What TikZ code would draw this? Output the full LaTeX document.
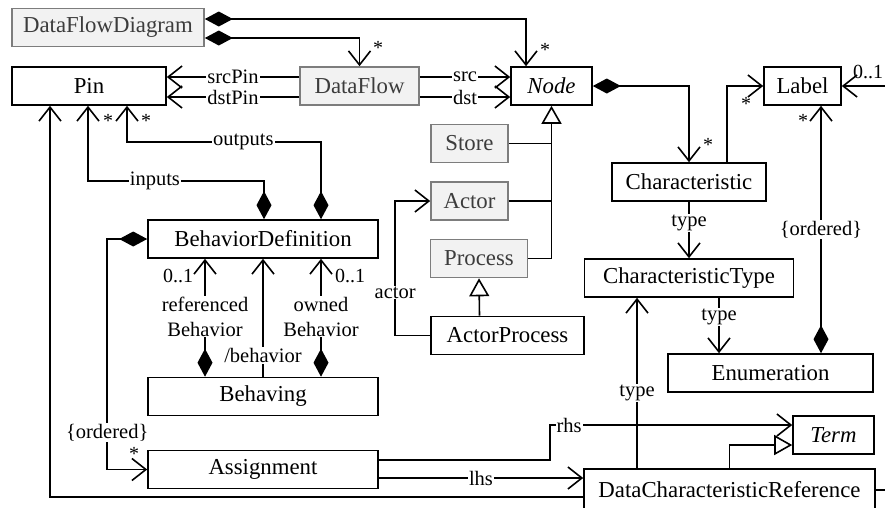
\documentclass[tikz,border=0pt]{standalone}
\usepackage{fontspec}
\setmainfont{Liberation Serif}
\usepackage{tikz}
\usetikzlibrary{arrows.meta}
\definecolor{umlgray}{RGB}{242,242,242}
\definecolor{umledge}{RGB}{125,125,125}
\definecolor{umltext}{RGB}{60,60,60}

\begin{document}
\begin{tikzpicture}[x=1pt, y=-1pt, line width=1.6pt,
  cls/.style={draw, rectangle, line width=1.6pt, minimum height=38pt, inner sep=0pt, font=\fontsize{22.8}{26}\selectfont},
  ext/.style={cls, fill=umlgray, draw=umledge, text=umltext},
  role/.style={fill=white, inner sep=1pt, align=center, font=\fontsize{20.5}{25}\selectfont},
  mult/.style={inner sep=0pt, font=\fontsize{20}{22}\selectfont},
  nav/.style={-{Straight Barb[length=14pt,width=22pt]}},
  comp/.style={{Diamond[length=28pt,width=15pt]}-{Straight Barb[length=14pt,width=22pt]}},
  gen/.style={-{Triangle[open,length=18pt,width=20pt]}}]
\useasboundingbox (0,0) rectangle (885,507);

% Top row
\node[ext, minimum width=192pt] (dfd) at (108,27.5) {DataFlowDiagram};
\node[cls, minimum width=154pt] (pin) at (89,86) {Pin};
\node[ext, minimum width=119pt] (df) at (359.5,86) {DataFlow};
\node[cls, minimum width=81pt] (node) at (551.5,86) {\itshape Node};
\node[cls, minimum width=77pt] (label) at (802.5,86) {Label};

% Node subclasses
\node[ext, minimum width=77pt] (store) at (469.5,143.5) {Store};
\node[ext, minimum width=77pt] (actor) at (469.5,201) {Actor};
\node[ext, minimum width=97pt] (proc) at (479,258.5) {Process};
\node[cls, minimum width=153pt] (ap) at (507.5,335.5) {ActorProcess};

% Behavior
\node[cls, minimum width=230pt] (bd) at (263,239) {BehaviorDefinition};
\node[cls, minimum width=230pt] (bhv) at (263,396.5) {Behaving};
\node[cls, minimum width=230pt] (asg) at (263,469.5) {Assignment};

% Characteristics
\node[cls, minimum width=154pt] (char) at (689,182) {Characteristic};
\node[cls, minimum width=209pt] (ctype) at (689,278) {CharacteristicType};
\node[cls, minimum width=205pt] (enum) at (770.5,373) {Enumeration};
\node[cls, minimum width=81pt] (term) at (833.5,435) {\itshape Term};
\node[cls, minimum width=291pt, minimum height=42pt] (dcr) at (729.5,490) {DataCharacteristicReference};

% Loose ends at the border
\coordinate (lblin) at (885,86);
\coordinate (dcrout) at (885,490);

% DataFlowDiagram containment
\draw[comp] ([yshift=8.5pt]dfd.east) -| ([xshift=-25.5pt]node.north);
\draw[comp] ([yshift=-10.5pt]dfd.east) -| (df.north);
\node[mult] at (545,50) {*};
\node[mult] at (378,48) {*};

% DataFlow ends
\draw[nav] ([yshift=9pt]df.east) -- node[role] {src} ([yshift=9pt]node.west);
\draw[nav] ([yshift=-11pt]df.east) -- node[role] {dst} ([yshift=-11pt]node.west);
\draw[nav] ([yshift=9pt]df.west) -- node[role] {srcPin} ([yshift=9pt]pin.east);
\draw[nav] ([yshift=-11pt]df.west) -- node[role] {dstPin} ([yshift=-11pt]pin.east);

% Node hierarchy
\draw[gen] (proc.east) -| (node.south);
\draw (store.east) -- (store.east -| node.south);
\draw (actor.east) -- (actor.east -| node.south);
\draw[gen] ([xshift=0.5pt]ap.north -| proc.south) -- (proc.south);
\draw[nav] (ap.west) -- ++(-35pt,0) |- node[role, pos=0.16] {actor} (actor.west);

% Characteristics and labels
\draw[comp] (node.east) -| (char.north);
\node[mult] at (708,145) {*};
\draw[nav] ([xshift=38pt]char.north) |- (label.west);
\node[mult] at (746,104) {*};
\draw[nav] (lblin) -- (label.east);
\node[mult] at (868,72) {0..1};
\draw[comp] ([xshift=50.5pt]enum.north) -- node[role, pos=0.5] {\{ordered\}} ([xshift=18.5pt]label.south);
\node[mult] at (803,121) {*};
\draw[nav] (char.south) -- node[role, pos=0.38] {type} (ctype.north);
\draw[nav] ([xshift=30pt]ctype.south) -- node[role, pos=0.35] {type} ([xshift=-51.5pt]enum.north);

% Pins of a behavior
\draw[comp] ([xshift=1pt]bd.north) -- ++(0,38pt) -| node[role, pos=0.31] {inputs} ([xshift=-1pt]pin.south);
\draw[comp] ([xshift=58pt]bd.north) -- ++(0,77pt) -| node[role, pos=0.2] {outputs} ([xshift=38pt]pin.south);
\node[mult] at (108,121) {*};
\node[mult] at (146,121) {*};

% Behaving
\draw[comp] ([xshift=-58pt]bhv.north) -- node[role, pos=0.51] {referenced\\Behavior} ([xshift=-58pt]bd.south);
\draw[nav] (bhv.north) -- node[role, pos=0.18] {/behavior} (bd.south);
\draw[comp] ([xshift=58pt]bhv.north) -- node[role, pos=0.51] {owned\\Behavior} ([xshift=58pt]bd.south);
\node[mult] at (178,276) {0..1};
\node[mult] at (350,276) {0..1};

% Assignments
\draw[comp] (bd.west) -- ++(-40pt,0) |- node[role, pos=0.42] {\{ordered\}} (asg.west);
\node[mult] at (134,454) {*};
\draw[nav] ([yshift=9.5pt]asg.east) -- ++(171pt,0) |- node[role, pos=0.54] {rhs} ([yshift=10pt]term.west);
\draw[nav] ([yshift=-8.5pt]asg.east) -- node[role, pos=0.5] {lhs} ([yshift=12pt]dcr.west);

% References
\draw[nav] ([xshift=-92.5pt]dcr.north) -- node[role, pos=0.44] {type} ([xshift=-52pt]ctype.south);
\draw[gen] (dcr.north) |- ([yshift=-10pt]term.west);
\draw[nav] ([yshift=-7pt]dcr.west) -| ([xshift=-39pt]pin.south);
\draw (dcr.east) -- (dcrout);
\end{tikzpicture}
\end{document}
